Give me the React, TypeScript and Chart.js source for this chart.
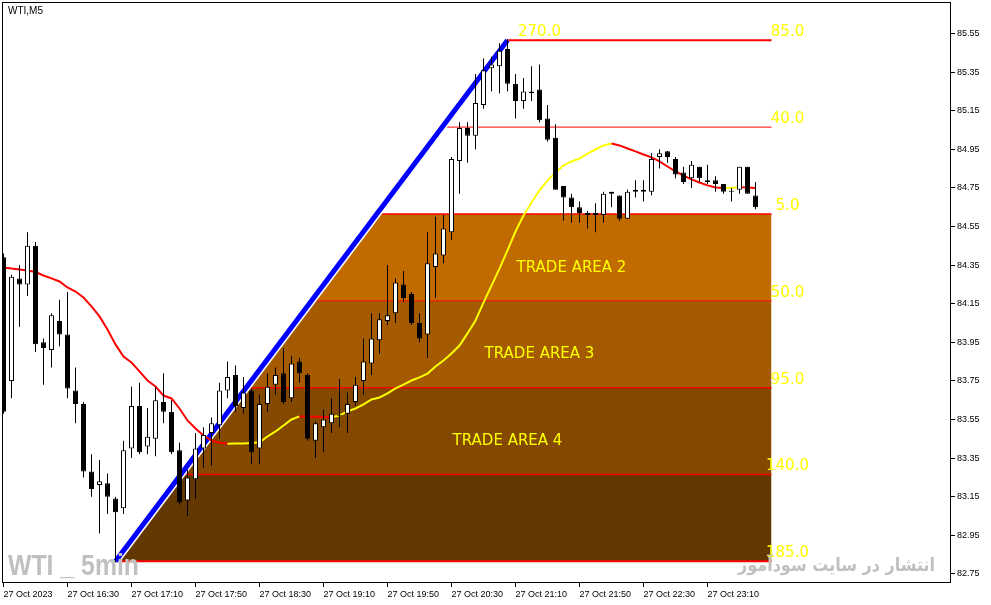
import { useEffect, useRef } from 'react';
import { Chart, registerables } from 'chart.js';

Chart.register(...registerables);

// ---- axis labels ----
const timeLabels = [
  '27 Oct 2023', '27 Oct 16:30', '27 Oct 17:10', '27 Oct 17:50', '27 Oct 18:30', '27 Oct 19:10',
  '27 Oct 19:50', '27 Oct 20:30', '27 Oct 21:10', '27 Oct 21:50', '27 Oct 22:30', '27 Oct 23:10',
];
const timeTickBars = [0, 8, 16, 24, 32, 40, 48, 56, 64, 72, 80, 88];
const priceTicks = [82.75, 82.95, 83.15, 83.35, 83.55, 83.75, 83.95, 84.15, 84.35, 84.55, 84.75, 84.95, 85.15, 85.35, 85.55];

// ---- WTI M5 candles (bar 0 = 15:50) ----
const opens = [
  84.39, 83.75, 84.28, 84.25, 84.45, 83.95, 83.91, 84.06, 83.99, 83.70,
  83.63, 83.28, 83.21, 83.22, 83.14, 83.09, 83.40, 83.62, 83.41, 83.45,
  83.64, 83.59, 83.39, 83.13, 83.24, 83.40, 83.48, 83.52, 83.70, 83.78,
  83.61, 83.70, 83.40, 83.63, 83.73, 83.79, 83.66, 83.85, 83.78, 83.44,
  83.51, 83.53, 83.57, 83.58, 83.64, 83.75, 83.84, 83.96, 84.06, 84.10,
  84.25, 84.20, 84.05, 83.99, 84.34, 84.40, 84.52, 84.89, 85.06, 85.02,
  85.18, 85.37, 85.38, 85.47, 85.29, 85.20, 85.24, 85.26, 85.11, 85.01,
  84.76, 84.70, 84.65, 84.61, 84.61, 84.61, 84.73, 84.71, 84.59, 84.74,
  84.74, 84.73, 84.91, 84.94, 84.90, 84.83, 84.80, 84.86, 84.79, 84.79,
  84.77, 84.73, 84.74, 84.86, 84.71,
];
const highs = [
  84.41, 84.30, 84.35, 84.52, 84.47, 83.97, 84.10, 84.17, 84.21, 83.82,
  83.64, 83.37, 83.34, 83.27, 83.15, 83.44, 83.72, 83.74, 83.61, 83.72,
  83.79, 83.65, 83.43, 83.29, 83.48, 83.51, 83.56, 83.74, 83.85, 83.83,
  83.77, 83.71, 83.68, 83.79, 83.82, 83.92, 83.88, 83.87, 83.79, 83.54,
  83.60, 83.66, 83.76, 83.69, 83.77, 83.97, 84.10, 84.10, 84.35, 84.28,
  84.32, 84.21, 84.10, 84.52, 84.60, 84.61, 84.91, 85.09, 85.09, 85.34,
  85.42, 85.43, 85.50, 85.52, 85.34, 85.32, 85.38, 85.39, 85.18, 85.08,
  84.76, 84.72, 84.68, 84.63, 84.67, 84.73, 84.73, 84.71, 84.74, 84.79,
  84.79, 84.93, 84.95, 84.94, 84.91, 84.86, 84.89, 84.86, 84.87, 84.81,
  84.77, 84.75, 84.86, 84.86, 84.78,
];
const lows = [
  83.58, 83.66, 84.03, 84.19, 83.90, 83.73, 83.82, 83.93, 83.66, 83.53,
  83.25, 83.15, 82.96, 83.06, 82.81, 83.06, 83.35, 83.37, 83.37, 83.36,
  83.53, 83.37, 83.11, 83.05, 83.14, 83.30, 83.31, 83.45, 83.66, 83.59,
  83.58, 83.32, 83.32, 83.59, 83.68, 83.63, 83.64, 83.74, 83.44, 83.35,
  83.38, 83.48, 83.51, 83.48, 83.62, 83.68, 83.78, 83.89, 84.04, 84.05,
  84.16, 84.04, 83.95, 83.87, 84.18, 84.36, 84.48, 84.72, 84.88, 84.95,
  85.16, 85.25, 85.24, 85.25, 85.11, 85.16, 85.20, 85.09, 84.99, 84.74,
  84.58, 84.57, 84.57, 84.54, 84.52, 84.57, 84.65, 84.58, 84.59, 84.70,
  84.68, 84.71, 84.85, 84.88, 84.80, 84.77, 84.75, 84.78, 84.77, 84.73,
  84.72, 84.68, 84.72, 84.72, 84.64,
];
const closes = [
  83.59, 84.29, 84.25, 84.45, 83.94, 83.92, 84.09, 83.99, 83.71, 83.63,
  83.28, 83.19, 83.23, 83.15, 83.07, 83.39, 83.62, 83.38, 83.46, 83.65,
  83.59, 83.38, 83.12, 83.25, 83.40, 83.47, 83.53, 83.70, 83.77, 83.62,
  83.69, 83.38, 83.63, 83.72, 83.78, 83.64, 83.84, 83.79, 83.45, 83.53,
  83.55, 83.58, 83.57, 83.63, 83.73, 83.85, 83.97, 84.07, 84.09, 84.26,
  84.18, 84.05, 83.97, 84.36, 84.41, 84.54, 84.90, 85.06, 85.02, 85.19,
  85.36, 85.39, 85.46, 85.29, 85.20, 85.25, 85.25, 85.10, 85.00, 84.74,
  84.70, 84.65, 84.62, 84.62, 84.62, 84.72, 84.72, 84.59, 84.73, 84.73,
  84.73, 84.90, 84.93, 84.91, 84.82, 84.78, 84.87, 84.80, 84.78, 84.77,
  84.73, 84.73, 84.86, 84.72, 84.65,
];

// ---- coloured moving average ----
const maValues = [
  84.338, 84.332, 84.327, 84.322, 84.314, 84.296, 84.281, 84.265, 84.234, 84.213,
  84.182, 84.136, 84.084, 84.016, 83.939, 83.876, 83.845, 83.799, 83.752, 83.721,
  83.674, 83.659, 83.607, 83.545, 83.503, 83.467, 83.441, 83.430, 83.424, 83.425,
  83.426, 83.428, 83.432, 83.462, 83.488, 83.519, 83.550, 83.566, 83.565, 83.564,
  83.563, 83.562, 83.571, 83.592, 83.607, 83.628, 83.654, 83.664, 83.685, 83.711,
  83.731, 83.752, 83.768, 83.788, 83.825, 83.856, 83.892, 83.933, 83.996, 84.063,
  84.156, 84.244, 84.332, 84.426, 84.524, 84.607, 84.674, 84.737, 84.788, 84.830,
  84.866, 84.887, 84.902, 84.928, 84.949, 84.970, 84.980, 84.970, 84.954, 84.939,
  84.923, 84.908, 84.887, 84.861, 84.835, 84.814, 84.794, 84.778, 84.763, 84.752,
  84.750, 84.751, 84.753, 84.752, 84.750,
];

// ---- trade area levels ----
const fibLevels = [85.515, 85.065, 84.615, 84.165, 83.715, 83.265, 82.815];
const fibLabels = ['85.0', '40.0', '5.0', '50.0', '95.0', '140.0', '185.0'];
const fibLineWidths = [2, 1, 1.5, 1, 1.5, 1.5, 2];
const bandColors = ['#C06A00', '#A35A00', '#844800', '#633800'];
const tradeAreaLabels = ['TRADE AREA 2', 'TRADE AREA 3', 'TRADE AREA 4'];
const tradeAreaBars = [71, 67, 63];
const tradeAreaPrices = [84.335, 83.888, 83.439];
const trendStartBar = 14;
const trendEndBar = 63;
const trendLabel = '270.0';
const trendLabelBar = 67;
const levelEndBar = 96;
const levelLabelBar = 98;

// view range
const xMin = -0.1875;
const xMax = 118.4375;
const yMin = 82.7028;
const yMax = 85.7132;

const trendLow = fibLevels[fibLevels.length - 1];
const trendHigh = fibLevels[0];
const trendBar = (p: number) =>
  trendStartBar + ((p - trendLow) / (trendHigh - trendLow)) * (trendEndBar - trendStartBar);

const overlayPlugin = {
  id: 'overlay',
  afterDatasetsDraw(chart: any) {
    const { ctx, chartArea: a, scales } = chart;
    const x = scales.x;
    const y = scales.y;
    ctx.save();
    // frame
    ctx.strokeStyle = '#000';
    ctx.lineWidth = 1;
    ctx.strokeRect(a.left + 0.5, a.top + 0.5, a.right - a.left - 1, a.bottom - a.top - 1);

    // level labels
    ctx.fillStyle = '#FFFF00';
    ctx.font = '15px "DejaVu Sans"';
    ctx.textAlign = 'center';
    ctx.textBaseline = 'alphabetic';
    fibLevels.forEach((lv, i) => {
      ctx.fillText(fibLabels[i], x.getPixelForValue(levelLabelBar), y.getPixelForValue(lv) - 4);
    });
    ctx.fillText(trendLabel, x.getPixelForValue(trendLabelBar), y.getPixelForValue(trendHigh) - 4);

    ctx.textBaseline = 'middle';
    tradeAreaLabels.forEach((t, i) => {
      ctx.fillText(t, x.getPixelForValue(tradeAreaBars[i]), y.getPixelForValue(tradeAreaPrices[i]));
    });

    // symbol caption
    ctx.fillStyle = '#000';
    ctx.font = '10px "Liberation Sans"';
    ctx.textAlign = 'left';
    ctx.textBaseline = 'middle';
    ctx.fillText('WTI,M5', a.left + 6, a.top + 9);

    // watermarks
    ctx.fillStyle = '#C0C0C0';
    ctx.font = 'bold 30px "Liberation Sans"';
    ctx.textBaseline = 'alphabetic';
    const wm = 'WTI _ 5min';
    const w1 = ctx.measureText(wm).width;
    ctx.save();
    ctx.translate(a.left + 6, a.bottom - 8);
    ctx.scale(131 / w1, 1);
    ctx.textAlign = 'left';
    ctx.fillText(wm, 0, 0);
    ctx.restore();

    const fa = 'انتشار در سایت سودآموز';
    ctx.font = 'bold 18px "DejaVu Sans"';
    ctx.direction = 'rtl';
    const w2 = ctx.measureText(fa).width;
    ctx.save();
    ctx.translate(a.right - 16, a.bottom - 12);
    ctx.scale(197 / w2, 1);
    ctx.textAlign = 'right';
    ctx.fillText(fa, 0, 0);
    ctx.restore();

    ctx.restore();
  },
};

export default function App() {
  const ref = useRef<HTMLCanvasElement>(null);

  useEffect(() => {
    const idx = opens.map((_, i) => i);
    const bodyData = idx.map((i) => ({ x: i, y: [opens[i], closes[i]] }));
    const wickData = idx.map((i) => ({ x: i, y: [lows[i], highs[i]] }));
    const bodyColors = idx.map((i) => (closes[i] >= opens[i] ? '#FFFFFF' : '#000000'));
    const maData = idx.map((i) => ({ x: i, y: maValues[i] }));

    const bandDatasets = bandColors.map((c, k) => {
      const top = fibLevels[k + 2];
      const bot = fibLevels[k + 3];
      return {
        type: 'line',
        data: [
          { x: trendBar(bot), y: bot },
          { x: trendBar(top), y: top },
          { x: levelEndBar, y: top },
        ],
        fill: { value: bot },
        backgroundColor: c,
        borderColor: 'rgba(0,0,0,0)',
        borderWidth: 0,
        pointRadius: 0,
        order: 20,
      };
    });

    const levelDatasets = fibLevels.map((lv, i) => ({
      type: 'line',
      data: [
        { x: trendBar(lv), y: lv },
        { x: levelEndBar, y: lv },
      ],
      borderColor: '#FF0000',
      borderWidth: fibLineWidths[i],
      pointRadius: 0,
      fill: false,
      order: 15,
    }));

    const trendData = [
      { x: trendStartBar, y: trendLow },
      { x: trendEndBar, y: trendHigh },
    ];

    const chart = new Chart(ref.current as HTMLCanvasElement, {
      type: 'line',
      data: {
        datasets: [
          ...bandDatasets,
          ...levelDatasets,
          {
            type: 'line',
            data: trendData,
            borderColor: '#FFFFFF',
            borderWidth: 8,
            pointRadius: 0,
            fill: false,
            order: 12,
          },
          {
            type: 'line',
            data: trendData,
            borderColor: '#0000FF',
            borderWidth: 5,
            pointRadius: 0,
            fill: false,
            order: 11,
          },
          {
            type: 'line',
            data: maData,
            borderWidth: 2,
            borderColor: '#FF0000',
            pointRadius: 0,
            fill: false,
            segment: {
              borderColor: (c: any) => (c.p1.parsed.y > c.p0.parsed.y ? '#FFFF00' : '#FF0000'),
            },
            order: 10,
          },
          {
            type: 'bar',
            data: wickData,
            backgroundColor: '#000000',
            borderWidth: 0,
            barThickness: 1,
            grouped: false,
            inflateAmount: 0,
            order: 5,
          },
          {
            type: 'bar',
            data: bodyData,
            backgroundColor: bodyColors,
            borderColor: '#000000',
            borderWidth: 1,
            borderSkipped: false,
            barThickness: 5,
            minBarLength: 1,
            grouped: false,
            inflateAmount: 0,
            order: 1,
          },
        ] as any,
      },
      options: {
        animation: false,
        responsive: false,
        maintainAspectRatio: false,
        devicePixelRatio: 1,
        events: [],
        layout: { padding: { left: 2, top: 2, right: 0, bottom: 0 } },
        elements: { line: { tension: 0 }, point: { radius: 0 } },
        plugins: { legend: { display: false }, tooltip: { enabled: false } },
        scales: {
          x: {
            type: 'linear',
            position: 'bottom',
            min: xMin,
            max: xMax,
            offset: false,
            grid: { display: true, drawOnChartArea: false, drawTicks: true, tickLength: 4, color: '#000', offset: false },
            border: { display: false },
            ticks: {
              autoSkip: false,
              maxRotation: 0,
              minRotation: 0,
              align: 'start',
              padding: 2,
              color: '#000',
              font: { family: 'Liberation Sans', size: 9 },
              callback: (_v: any, i: number) => timeLabels[i] ?? '',
            },
            afterBuildTicks: (s: any) => {
              s.ticks = timeTickBars.map((v) => ({ value: v }));
            },
            afterFit: (s: any) => {
              s.height = 22;
              s.paddingLeft = 0;
              s.paddingRight = 0;
            },
          },
          y: {
            type: 'linear',
            position: 'right',
            min: yMin,
            max: yMax,
            grid: { display: true, drawOnChartArea: false, drawTicks: true, tickLength: 4, color: '#000' },
            border: { display: false },
            ticks: {
              padding: 2,
              color: '#000',
              font: { family: 'Liberation Sans', size: 9 },
              callback: (v: any) => Number(v).toFixed(2),
            },
            afterBuildTicks: (s: any) => {
              s.ticks = priceTicks.map((v) => ({ value: v }));
            },
            afterFit: (s: any) => {
              s.width = 40;
              s.paddingTop = 0;
              s.paddingBottom = 0;
            },
          },
        },
      } as any,
      plugins: [overlayPlugin],
    });
    return () => chart.destroy();
  }, []);

  return (
    <div style={{ position: 'absolute', left: 0, top: 0, width: 991, height: 605, background: '#fff' }}>
      <canvas ref={ref} width={991} height={605} style={{ display: 'block', width: 991, height: 605 }} />
    </div>
  );
}
